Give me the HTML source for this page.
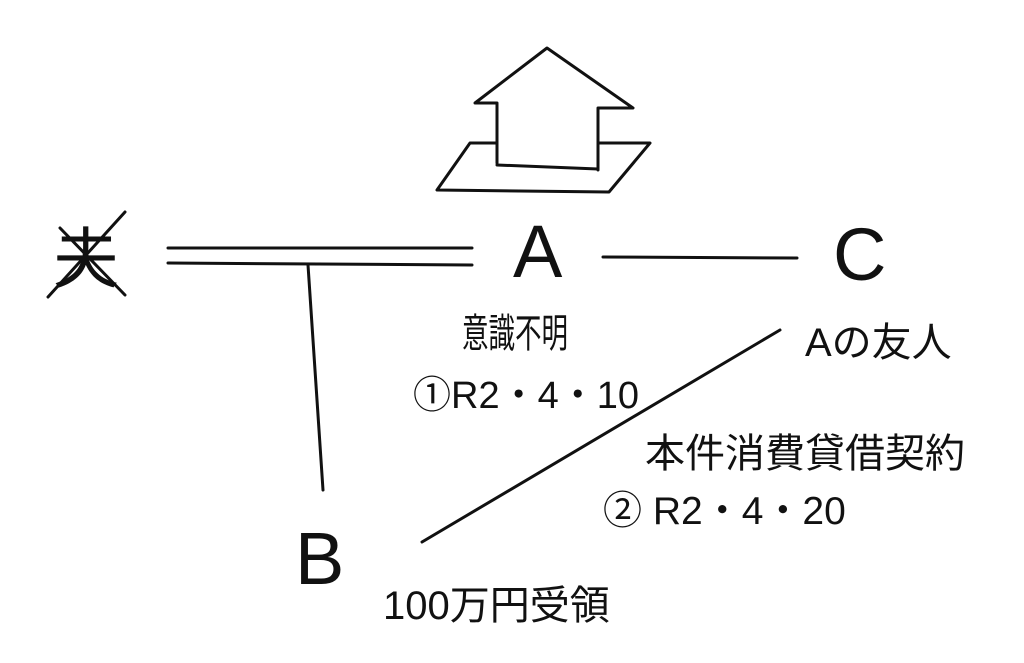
<!DOCTYPE html>
<html><head><meta charset="utf-8"><style>
html,body{margin:0;padding:0;background:#fff;}
svg{display:block;}
text{font-family:"Liberation Sans","Noto Sans CJK JP",sans-serif;fill:#111;}
</style></head><body>
<svg width="1024" height="663" viewBox="0 0 1024 663" xmlns="http://www.w3.org/2000/svg">
<g stroke="#111" stroke-width="3" fill="none" stroke-linecap="round" stroke-linejoin="round">
<polyline points="497,163 497,103 475,103 547,48 633,108 598,108 598,170"/>
<line x1="497" y1="165" x2="598" y2="169"/>
<polyline points="497,143 470,143 437,190 609,192 650,143 598,143"/>
<line x1="168" y1="248" x2="472" y2="248"/>
<line x1="168" y1="263" x2="472" y2="265"/>
<line x1="308" y1="265" x2="323" y2="490"/>
<line x1="603" y1="257" x2="797" y2="258"/>
<line x1="780" y1="330" x2="422" y2="542"/>
<line x1="48" y1="297" x2="125" y2="212"/>
<line x1="60" y1="228" x2="125" y2="295"/>
</g>
<text x="53" y="282" font-size="66">夫</text>
<text x="513" y="277" font-size="74">A</text>
<text x="833" y="280" font-size="74">C</text>
<text x="462" y="347" font-size="40" textLength="106" lengthAdjust="spacingAndGlyphs">意識不明</text>
<text x="413" y="408" font-size="38">①R2・4・10</text>
<text x="805" y="356" font-size="40">Aの友人</text>
<text x="645" y="467" font-size="40">本件消費貸借契約</text>
<text x="603" y="524" font-size="39">② R2・4・20</text>
<text x="295" y="584" font-size="74">B</text>
<text x="383" y="619" font-size="40">100万円受領</text>
</svg>
</body></html>
